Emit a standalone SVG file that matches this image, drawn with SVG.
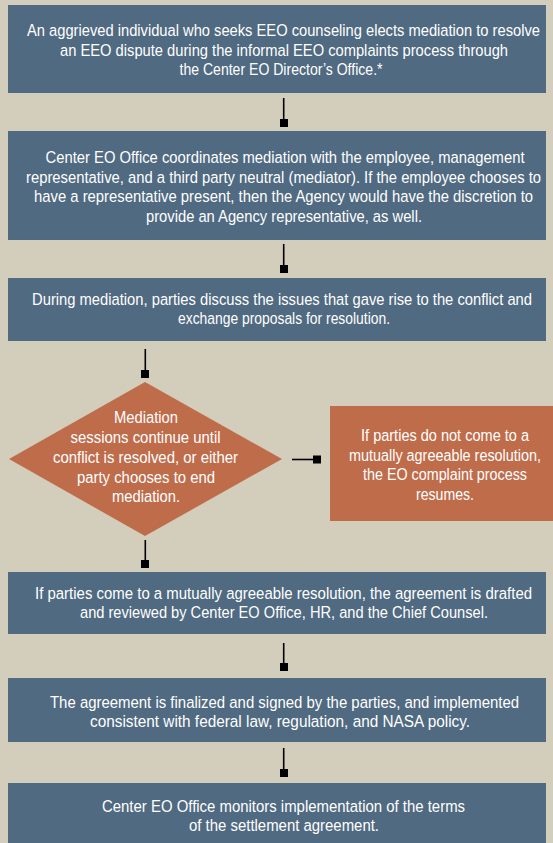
<svg xmlns="http://www.w3.org/2000/svg" width="553" height="843" viewBox="0 0 553 843">
<style>
.bg{fill:#d3cdbb}
.box{fill:#506a81}
.orange{fill:#bf6c4b}
text{font-family:"Liberation Sans",Arial,sans-serif;font-size:16.5px;fill:#ffffff;text-anchor:middle}
.ln{stroke:#000;stroke-width:1.6;fill:none}
.sq{fill:#000}
</style>
<rect class="bg" x="0" y="0" width="553" height="843"/>
<g id="n1">
<rect class="box" x="8" y="5" width="538" height="88"/>
<text transform="translate(283.5,36) scale(0.85,1)" textLength="603.5" lengthAdjust="spacingAndGlyphs">An aggrieved individual who seeks EEO counseling elects mediation to resolve</text>
<text transform="translate(284,55.5) scale(0.85,1)" textLength="527.1" lengthAdjust="spacingAndGlyphs">an EEO dispute during the informal EEO complaints process through</text>
<text transform="translate(281,75) scale(0.85,1)" textLength="238.8" lengthAdjust="spacingAndGlyphs">the Center EO Director’s Office.*</text>
</g>
<g id="n2">
<rect class="box" x="8" y="131" width="538" height="109"/>
<text transform="translate(285,163) scale(0.85,1)" textLength="563.5" lengthAdjust="spacingAndGlyphs">Center EO Office coordinates mediation with the employee, management</text>
<text transform="translate(283.5,182.5) scale(0.85,1)" textLength="605.9" lengthAdjust="spacingAndGlyphs">representative, and a third party neutral (mediator). If the employee chooses to</text>
<text transform="translate(283.5,202) scale(0.85,1)" textLength="587.1" lengthAdjust="spacingAndGlyphs">have a representative present, then the Agency would have the discretion to</text>
<text transform="translate(284,221.5) scale(0.85,1)" textLength="324.7" lengthAdjust="spacingAndGlyphs">provide an Agency representative, as well.</text>
</g>
<g id="n3">
<rect class="box" x="8" y="278" width="538" height="63"/>
<text transform="translate(282,304.5) scale(0.85,1)" textLength="588.2" lengthAdjust="spacingAndGlyphs">During mediation, parties discuss the issues that gave rise to the conflict and</text>
<text transform="translate(284,324) scale(0.85,1)" textLength="249.4" lengthAdjust="spacingAndGlyphs">exchange proposals for resolution.</text>
</g>
<g id="n4">
<polygon class="orange" points="145,382 282,459 145,536 9,459"/>
<text transform="translate(146,423) scale(0.85,1)" textLength="75.3" lengthAdjust="spacingAndGlyphs">Mediation</text>
<text transform="translate(145.5,443) scale(0.85,1)" textLength="176.5" lengthAdjust="spacingAndGlyphs">sessions continue until</text>
<text transform="translate(145.5,463) scale(0.85,1)" textLength="217.6" lengthAdjust="spacingAndGlyphs">conflict is resolved, or either</text>
<text transform="translate(146,483) scale(0.85,1)" textLength="162.4" lengthAdjust="spacingAndGlyphs">party chooses to end</text>
<text transform="translate(146,502) scale(0.85,1)" textLength="80" lengthAdjust="spacingAndGlyphs">mediation.</text>
</g>
<g id="n5">
<rect class="orange" x="330" y="406" width="223" height="115"/>
<text transform="translate(445,441) scale(0.85,1)" textLength="197.6" lengthAdjust="spacingAndGlyphs">If parties do not come to a</text>
<text transform="translate(445,460.5) scale(0.85,1)" textLength="225.9" lengthAdjust="spacingAndGlyphs">mutually agreeable resolution,</text>
<text transform="translate(445,480) scale(0.85,1)" textLength="192.9" lengthAdjust="spacingAndGlyphs">the EO complaint process</text>
<text transform="translate(445,500) scale(0.85,1)" textLength="68.2" lengthAdjust="spacingAndGlyphs">resumes.</text>
</g>
<g id="n6">
<rect class="box" x="8" y="572" width="538" height="62"/>
<text transform="translate(283.5,599) scale(0.85,1)" textLength="584.7" lengthAdjust="spacingAndGlyphs">If parties come to a mutually agreeable resolution, the agreement is drafted</text>
<text transform="translate(284,618) scale(0.85,1)" textLength="480" lengthAdjust="spacingAndGlyphs">and reviewed by Center EO Office, HR, and the Chief Counsel.</text>
</g>
<g id="n7">
<rect class="box" x="8" y="678" width="538" height="64"/>
<text transform="translate(284.5,707.5) scale(0.85,1)" textLength="551.8" lengthAdjust="spacingAndGlyphs">The agreement is finalized and signed by the parties, and implemented</text>
<text transform="translate(280,727) scale(0.85,1)" textLength="447.1" lengthAdjust="spacingAndGlyphs">consistent with federal law, regulation, and NASA policy.</text>
</g>
<g id="n8">
<rect class="box" x="8" y="783" width="538" height="60"/>
<text transform="translate(283.5,812) scale(0.85,1)" textLength="427.1" lengthAdjust="spacingAndGlyphs">Center EO Office monitors implementation of the terms</text>
<text transform="translate(284,830.5) scale(0.85,1)" textLength="223.5" lengthAdjust="spacingAndGlyphs">of the settlement agreement.</text>
</g>
<g id="connectors">
<line class="ln" x1="283.7" y1="98" x2="283.7" y2="120"/>
<rect class="sq" x="280" y="119" width="8" height="8"/>
<line class="ln" x1="283.7" y1="244" x2="283.7" y2="266"/>
<rect class="sq" x="280" y="265" width="8" height="8"/>
<line class="ln" x1="145.3" y1="349" x2="145.3" y2="371"/>
<rect class="sq" x="141" y="370" width="8" height="8"/>
<line class="ln" x1="292" y1="459.5" x2="314" y2="459.5"/>
<rect class="sq" x="313" y="455.5" width="8" height="8"/>
<line class="ln" x1="145.3" y1="540" x2="145.3" y2="562"/>
<rect class="sq" x="141" y="560" width="8" height="8"/>
<line class="ln" x1="283.7" y1="643" x2="283.7" y2="664"/>
<rect class="sq" x="280" y="663" width="8" height="8"/>
<line class="ln" x1="283.7" y1="748" x2="283.7" y2="770"/>
<rect class="sq" x="280" y="769" width="8" height="8"/>
</g>
</svg>
